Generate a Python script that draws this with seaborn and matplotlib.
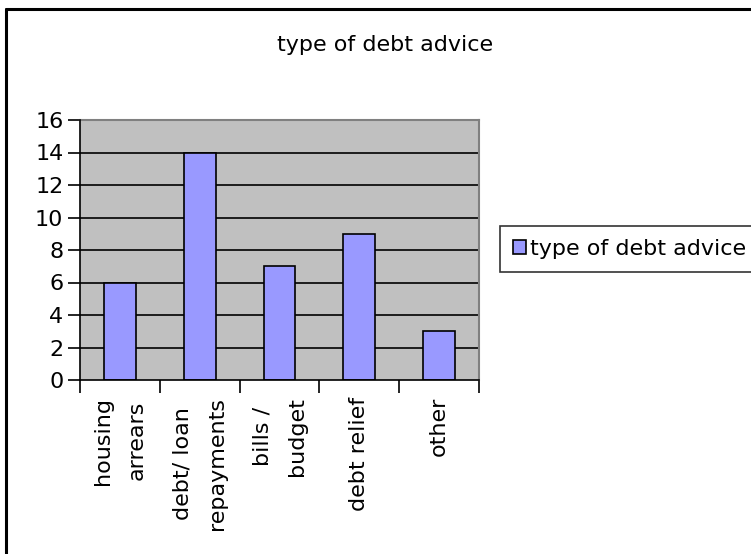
import matplotlib
matplotlib.use("Agg")
import matplotlib.pyplot as plt
import seaborn as sns
import pandas as pd
from matplotlib.lines import Line2D
from matplotlib.ticker import FixedLocator, NullFormatter, FixedFormatter

categories = ["housing\narrears", "debt/ loan\nrepayments", "bills /\nbudget", "debt relief", "other"]
values = [6, 14, 7, 9, 3]
series_name = "type of debt advice"
title = "type of debt advice"
yticks = [0, 2, 4, 6, 8, 10, 12, 14, 16]

sns.set_theme(style="white")
plt.rcParams['font.family'] = ['DejaVu Sans']
plt.rcParams['text.color'] = 'black'
plt.rcParams['xtick.color'] = 'black'
plt.rcParams['ytick.color'] = 'black'

W, H = 751, 554
FS = 16
fig = plt.figure(figsize=(W / 100, H / 100), dpi=100)
ax = fig.add_axes([80 / W, 1 - 380 / H, (479 - 80) / W, (380 - 120) / H])
ax.set_facecolor("#C0C0C0")

df = pd.DataFrame({"cat": categories, "val": values})
sns.barplot(data=df, x="cat", y="val", color="#9999FF", width=0.4,
            edgecolor="black", linewidth=1.2, saturation=1, ax=ax,
            label=series_name, zorder=3)
handles, labels = ax.get_legend_handles_labels()
if ax.get_legend() is not None:
    ax.get_legend().remove()

ax.set_xlim(-0.5, len(categories) - 0.5)
ax.set_ylim(0, 16)
for y in yticks[1:-1]:
    ax.axhline(y, color="black", linewidth=1.2, zorder=1)

ax.set_yticks(yticks)
ax.set_yticklabels([str(v) for v in yticks], fontsize=FS)
ax.xaxis.set_major_locator(FixedLocator([i - 0.5 for i in range(len(categories) + 1)]))
ax.xaxis.set_major_formatter(NullFormatter())
ax.xaxis.set_minor_locator(FixedLocator(list(range(len(categories)))))
ax.xaxis.set_minor_formatter(FixedFormatter(categories))
ax.tick_params(axis="x", which="major", direction="out", length=9, width=1.2, color="black", bottom=True)
ax.tick_params(axis="x", which="minor", length=0, pad=12, labelsize=FS, labelrotation=90, bottom=True)
ax.tick_params(axis="y", direction="out", length=9, width=1.2, color="black", pad=3, left=True)
for lab in ax.xaxis.get_minorticklabels():
    lab.set_multialignment("center")
    lab.set_linespacing(1.9)
ax.set_xlabel("")
ax.set_ylabel("")

for s in ["left", "bottom"]:
    ax.spines[s].set_color("black")
    ax.spines[s].set_linewidth(1.2)
for s in ["top", "right"]:
    ax.spines[s].set_color("#808080")
    ax.spines[s].set_linewidth(1.5)
ax.spines["left"].set_zorder(4)
ax.spines["bottom"].set_zorder(4)

fig.text(385 / W, 1 - 45 / H, title, ha="center", va="center", fontsize=FS)

leg = fig.legend(handles, labels, loc="center left", bbox_to_anchor=(500 / W, 1 - 249 / H),
                 fontsize=FS, frameon=True, fancybox=False, handlelength=0.55, handleheight=0.55,
                 handletextpad=0.2, borderpad=0.6, borderaxespad=0)
leg.get_frame().set_edgecolor("black")
leg.get_frame().set_linewidth(1.2)

# outer chart border (only left and top visible)
fig.add_artist(Line2D([6.5 / W, 6.5 / W], [1 - 9 / H, 0], color="black", linewidth=2.2, transform=fig.transFigure))
fig.add_artist(Line2D([6.5 / W, 1], [1 - 9 / H, 1 - 9 / H], color="black", linewidth=2.2, transform=fig.transFigure))

fig.savefig("out.png", dpi=100)
